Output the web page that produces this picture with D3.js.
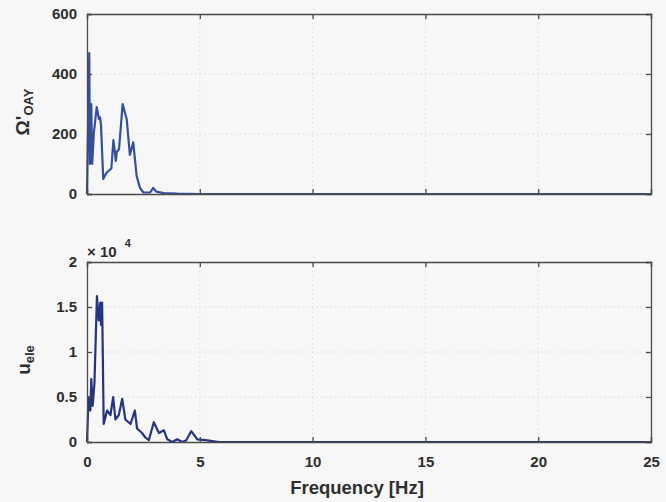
<!DOCTYPE html>
<html>
<head>
<meta charset="utf-8">
<script src="https://cdn.jsdelivr.net/npm/d3@7"></script>
<style>
  html, body { margin: 0; padding: 0; background: #f7f7f7; }
  svg { display: block; font-family: "Liberation Sans", Arial, sans-serif; }
</style>
</head>
<body>
<svg id="chart" width="666" height="502"></svg>
<script>
// frequenza in Hz, ampiezze
const topFreq = [0, 0.03, 0.1, 0.13, 0.19, 0.23, 0.3, 0.43, 0.53, 0.58, 0.62, 0.72, 0.86, 1.0, 1.08, 1.17, 1.28, 1.32, 1.42, 1.58, 1.72, 1.76, 1.9, 2.05, 2.2, 2.35, 2.5, 2.8, 2.93, 3.07, 3.4, 4.0, 5.0, 25];
const topVals = [0, 150, 470, 100, 300, 100, 200, 290, 250, 255, 230, 50, 70, 80, 85, 180, 110, 140, 150, 300, 260, 250, 130, 172, 60, 20, 5, 5, 20, 8, 3, 1, 0, 0];

// ampiezze in unità di 1e-4
const botFreq = [0, 0.07, 0.15, 0.19, 0.25, 0.33, 0.44, 0.52, 0.59, 0.62, 0.67, 0.74, 0.89, 1.04, 1.16, 1.26, 1.41, 1.56, 1.7, 1.93, 2.12, 2.22, 2.44, 2.59, 2.74, 2.96, 3.19, 3.41, 3.56, 3.78, 4.0, 4.22, 4.4, 4.62, 4.89, 5.26, 5.56, 5.85, 25];
const botVals = [0, 0.5, 0.35, 0.7, 0.4, 0.65, 1.62, 1.35, 1.55, 1.3, 1.55, 0.2, 0.35, 0.3, 0.5, 0.25, 0.3, 0.48, 0.25, 0.2, 0.35, 0.15, 0.1, 0.05, 0.02, 0.22, 0.1, 0.13, 0.03, 0, 0.03, 0, 0.02, 0.12, 0.03, 0.02, 0.01, 0, 0];

const xTicks = [0, 5, 10, 15, 20, 25];
const topTicks = [0, 200, 400, 600];
const botTicks = [0, 0.5, 1, 1.5, 2];

const svg = d3.select("#chart");
const left = 87, right = 651;
const textColor = "#2e2e2e";

const x = d3.scaleLinear().domain([0, 25]).range([left, right]);

function drawPanel(top, bottom, yDomain, yTicks, freq, vals, lineColor) {
  const y = d3.scaleLinear().domain(yDomain).range([bottom, top]);
  const g = svg.append("g");

  // griglia tratteggiata
  g.selectAll(".vgrid").data(xTicks.slice(1, -1)).enter().append("line")
    .attr("x1", d => x(d)).attr("x2", d => x(d))
    .attr("y1", top).attr("y2", bottom)
    .attr("stroke", "#d2d2d2").attr("stroke-width", 0.8)
    .attr("stroke-dasharray", "1.5,3");
  g.selectAll(".hgrid").data(yTicks.slice(1, -1)).enter().append("line")
    .attr("x1", left).attr("x2", right)
    .attr("y1", d => y(d)).attr("y2", d => y(d))
    .attr("stroke", "#d2d2d2").attr("stroke-width", 0.8)
    .attr("stroke-dasharray", "1.5,3");

  // curva
  const line = d3.line().x(d => x(d[0])).y(d => y(d[1]));
  g.append("path")
    .datum(freq.map((f, i) => [f, vals[i]]))
    .attr("d", line)
    .attr("fill", "none")
    .attr("stroke", lineColor)
    .attr("stroke-width", 2.2)
    .attr("stroke-linejoin", "round");

  // assi: tacche interne su tutti i lati
  const ax = g.append("g").attr("transform", `translate(0,${bottom})`)
    .call(d3.axisBottom(x).tickValues(xTicks).tickSize(-5).tickFormat(""));
  const axTop = g.append("g").attr("transform", `translate(0,${top})`)
    .call(d3.axisTop(x).tickValues(xTicks).tickSize(-5).tickFormat(""));
  const ay = g.append("g").attr("transform", `translate(${left},0)`)
    .call(d3.axisLeft(y).tickValues(yTicks).tickSize(-5).tickPadding(10)
      .tickFormat(d => d3.format("")(d)));
  const ayR = g.append("g").attr("transform", `translate(${right},0)`)
    .call(d3.axisRight(y).tickValues(yTicks).tickSize(-5).tickFormat(""));

  [ax, axTop, ay, ayR].forEach(a => {
    a.select(".domain").attr("stroke", "#4a4a4a").attr("stroke-width", 1.3);
    a.selectAll(".tick line").attr("stroke", "#4a4a4a").attr("stroke-width", 1.3);
  });
  ay.selectAll(".tick text")
    .attr("fill", textColor).attr("font-size", 15).attr("font-weight", "bold");

  return { y, g };
}

drawPanel(14, 194, [0, 600], topTicks, topFreq, topVals, "#33509f");
drawPanel(262, 442, [0, 2], botTicks, botFreq, botVals, "#24347f");

// etichette asse x
svg.append("g").attr("transform", "translate(0,442)")
  .call(d3.axisBottom(x).tickValues(xTicks).tickSize(0).tickPadding(14))
  .call(a => a.select(".domain").remove())
  .selectAll(".tick text")
  .attr("fill", textColor).attr("font-size", 15).attr("font-weight", "bold");

svg.append("text")
  .attr("x", 357).attr("y", 494)
  .attr("text-anchor", "middle")
  .attr("fill", textColor).attr("font-size", 18.5).attr("font-weight", "bold")
  .text("Frequency [Hz]");

// etichette asse y
const yl1 = svg.append("text")
  .attr("transform", "translate(29,112) rotate(-90)")
  .attr("text-anchor", "middle")
  .attr("fill", textColor).attr("font-weight", "bold");
yl1.append("tspan").attr("font-size", 19).text("Ω'");
yl1.append("tspan").attr("font-size", 13).attr("dy", 4).text("OAY");

const yl2 = svg.append("text")
  .attr("transform", "translate(30,360) rotate(-90)")
  .attr("text-anchor", "middle")
  .attr("fill", textColor).attr("font-weight", "bold");
yl2.append("tspan").attr("font-size", 19).text("u");
yl2.append("tspan").attr("font-size", 13).attr("dy", 4).text("ele");

// fattore di scala
const sc = svg.append("text")
  .attr("x", 87).attr("y", 257)
  .attr("fill", textColor).attr("font-weight", "bold");
sc.append("tspan").attr("font-size", 15).text("× 10");
sc.append("tspan").attr("font-size", 11).attr("dx", 8).attr("dy", -10).text("4");
</script>
</body>
</html>
